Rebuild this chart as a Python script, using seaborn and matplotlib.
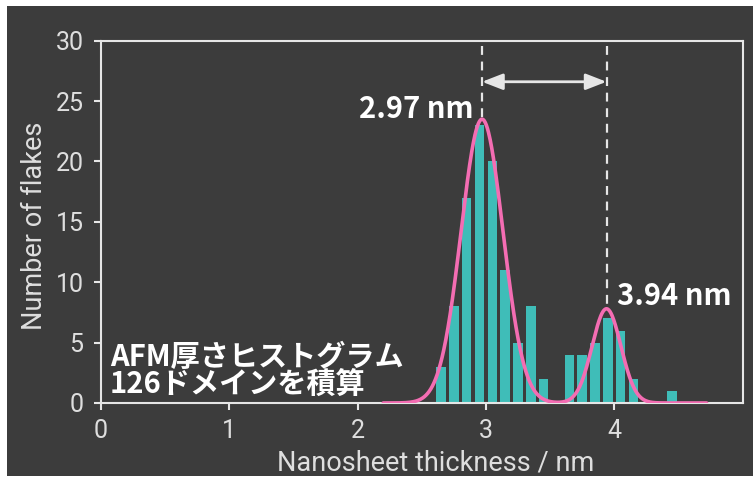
import numpy as np
import pandas as pd
import matplotlib
matplotlib.use("Agg")
import matplotlib.pyplot as plt
from matplotlib.patches import Rectangle
import seaborn as sns

# Histogram of AFM nanosheet thickness (bin centres in nm, counts per bin)
bin_centers = [2.65, 2.75, 2.85, 2.95, 3.05, 3.15, 3.25, 3.35, 3.45,
               3.65, 3.75, 3.85, 3.95, 4.05, 4.15, 4.45]
counts = [3, 8, 17, 23, 20, 11, 5, 8, 2,
          4, 4, 5, 7, 6, 2, 1]

# Two-Gaussian fit: peak centre (nm), amplitude (flakes), sigma (nm)
peak_centers = [2.97, 3.94]
peak_amplitudes = [23.5, 7.8]
peak_sigmas = [0.163, 0.112]
peak_labels = ["2.97 nm", "3.94 nm"]

x_ticks = [0, 1, 2, 3, 4]
y_ticks = [0, 5, 10, 15, 20, 25, 30]

BG = "#3c3c3c"
FG = "#e6e6e6"
BAR = "#3fbdb8"
FIT = "#f46db3"
TXT = "#dedede"

sns.set_theme(style="ticks")
plt.rcParams["font.family"] = ["Roboto", "DejaVu Sans"]

fig = plt.figure(figsize=(7.53, 4.78), dpi=100, facecolor="white")
panel = Rectangle((7 / 753, 2 / 478), 1 - 7 / 753, 1 - 8 / 478,
                  transform=fig.transFigure, facecolor=BG,
                  edgecolor="none", zorder=-10)
fig.add_artist(panel)
ax = fig.add_axes([101 / 753, 1 - 403 / 478, (742.5 - 101) / 753, (403 - 40.7) / 478])
ax.set_facecolor(BG)
ax.set_zorder(1)

hist_df = pd.DataFrame({"thickness": bin_centers, "count": counts})
sns.histplot(data=hist_df, x="thickness", weights="count", binwidth=0.1,
             binrange=(2.6, 4.5), shrink=0.74, color=BAR, alpha=1.0,
             edgecolor="none", linewidth=0, ax=ax, zorder=2)

xs = np.linspace(2.2, 4.72, 600)
fit = np.zeros_like(xs)
for c, a, s in zip(peak_centers, peak_amplitudes, peak_sigmas):
    fit += a * np.exp(-(xs - c) ** 2 / (2 * s ** 2))
fit_df = pd.DataFrame({"x": xs, "y": fit})
sns.lineplot(data=fit_df, x="x", y="y", color=FIT, linewidth=2.6, ax=ax, zorder=3)

# dashed markers from the top of the frame down to each fitted peak
for c, a in zip(peak_centers, peak_amplitudes):
    ax.plot([c, c], [29.6, a], color=FG, linestyle=(0, (4, 3)), linewidth=1.6, zorder=4)

ax.annotate("", xy=(peak_centers[1], 26.6), xytext=(peak_centers[0], 26.6),
            arrowprops=dict(arrowstyle="<|-|>,head_length=0.9,head_width=0.35",
                            color=FG, lw=2, shrinkA=0, shrinkB=0,
                            mutation_scale=14), zorder=5)

bold_font = ["Noto Sans CJK JP", "DejaVu Sans"]
ax.text(2.90, 23.6, peak_labels[0], ha="right", va="baseline", color="white",
        fontsize=21, fontweight="bold", family=bold_font, zorder=6)
ax.text(4.02, 8.1, peak_labels[1], ha="left", va="baseline", color="white",
        fontsize=21, fontweight="bold", family=bold_font, zorder=6)

ax.text(0.07, 3.05, "AFM厚さヒストグラム", ha="left", va="baseline", color="white",
        fontsize=21, fontweight="bold", family=bold_font, zorder=6)
ax.text(0.07, 0.8, "126ドメインを積算", ha="left", va="baseline", color="white",
        fontsize=21, fontweight="bold", family=bold_font, zorder=6)

ax.set_xlim(0, 5)
ax.set_ylim(0, 30)
ax.set_xticks(x_ticks)
ax.set_yticks(y_ticks)
ax.set_xticklabels([str(t) for t in x_ticks])
ax.set_yticklabels([str(t) for t in y_ticks])
ax.tick_params(axis="both", colors=FG, labelcolor=TXT, labelsize=18,
               length=5, width=1.5, direction="out")
ax.tick_params(axis="x", pad=6.5)
ax.tick_params(axis="y", pad=7.5)

for side in ["left", "right", "top", "bottom"]:
    ax.spines[side].set_visible(True)
    ax.spines[side].set_color(FG)
    ax.spines[side].set_linewidth(1.5)

ax.set_xlabel("Nanosheet thickness / nm", color=TXT, fontsize=19.5)
ax.set_ylabel("Number of flakes", color=TXT, fontsize=19.5)
ax.xaxis.set_label_coords(0.522, -0.128)
ax.yaxis.set_label_coords(-0.083, 0.49)

fig.savefig("out.png", dpi=100, facecolor=fig.get_facecolor())
